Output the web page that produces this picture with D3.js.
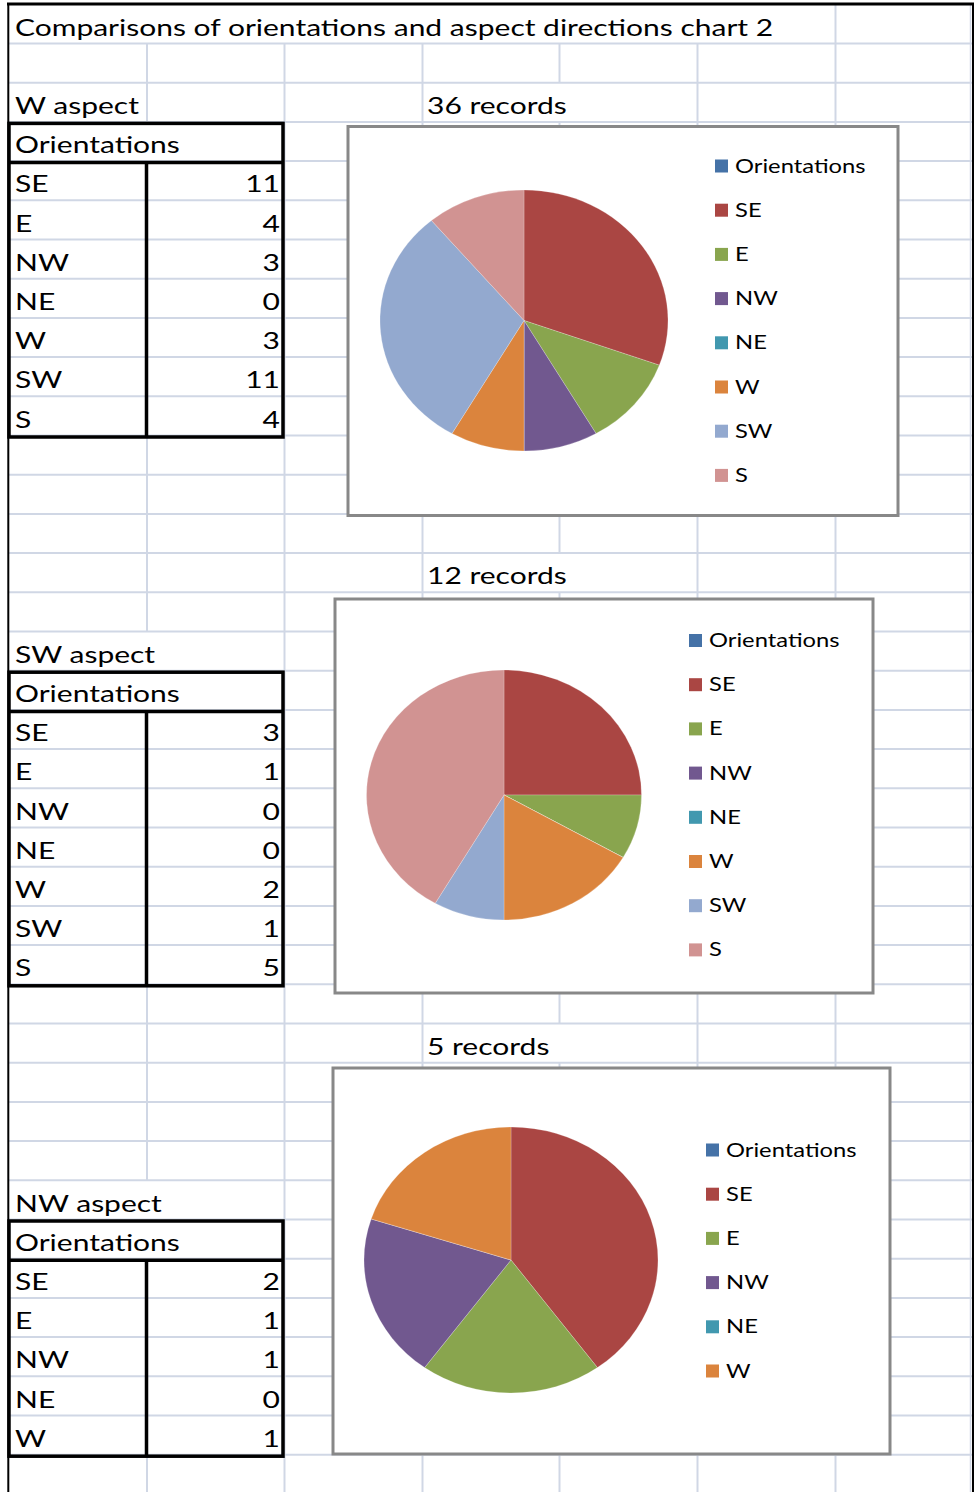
<!DOCTYPE html>
<html>
<head>
<meta charset="utf-8">
<script src="https://cdn.jsdelivr.net/npm/d3@7"></script>
<style>
  html, body { margin: 0; padding: 0; background: #fff; }
  svg { display: block; }
  text { font-family: Lato, "Open Sans", sans-serif; fill: #000; }
</style>
</head>
<body>
<svg id="chart" width="974" height="1492"></svg>
<script>
// ---------- DATA ----------
const title = "Comparisons of orientations and aspect directions chart 2";
const headerLabel = "Orientations";
const orientations = ["SE", "E", "NW", "NE", "W", "SW", "S"];
const wAspectValues = [11, 4, 3, 0, 3, 11, 4];
const swAspectValues = [3, 1, 0, 0, 2, 1, 5];
const nwAspectValues = [2, 1, 1, 0, 1];
const aspectNames = ["W aspect", "SW aspect", "NW aspect"];
const recordLabels = ["36 records", "12 records", "5 records"];
const seriesColors = ["#4572A7", "#AA4643", "#89A54E", "#71588F", "#4198AF", "#DB843D", "#93A9CF", "#D19392"];

// ---------- LAYOUT ----------
const SX = 1.25;              // horizontal text stretch
const ROW0 = 43.5, ROWH = 39.2;
const rowY = k => ROW0 + ROWH * k;
const colX = [147, 284.5, 422.5, 559.5, 697.5, 835.5, 970.5];
const GRID = "#D0D7E5";

const panels = [
  { name: aspectNames[0], values: wAspectValues, rec: recordLabels[0], labelRow: 1, recRow: 1,
    box: [348, 126.5, 898, 515.5], pie: [524, 320.5, 144, 130.5], legend: [715, 166] },
  { name: aspectNames[1], values: swAspectValues, rec: recordLabels[1], labelRow: 15, recRow: 13,
    box: [335, 599, 873, 993], pie: [504, 795, 137.5, 125], legend: [689, 640.5] },
  { name: aspectNames[2], values: nwAspectValues, rec: recordLabels[2], labelRow: 29, recRow: 25,
    box: [333, 1068, 890, 1454], pie: [511, 1260, 147, 133], legend: [706, 1150] }
];

const color = d3.scaleOrdinal().domain([headerLabel, ...orientations]).range(seriesColors);

const svg = d3.select("#chart");
svg.append("rect").attr("width", 974).attr("height", 1492).attr("fill", "#fff");

function txt(g, x, y, s, size, anchor) {
  return g.append("text")
    .attr("transform", `translate(${x},${y}) scale(${SX},1)`)
    .attr("font-size", size)
    .attr("text-anchor", anchor || "start")
    .text(s);
}

// ---------- GRID ----------
const grid = svg.append("g").attr("stroke", GRID).attr("stroke-width", 2);
for (let k = 0; k <= 37; k++) {
  grid.append("line").attr("x1", 8).attr("x2", 972).attr("y1", rowY(k)).attr("y2", rowY(k));
}
// hidden vertical segments: [rowIndex, column x]
const hiddenCells = new Set();
colX.forEach(cx => { if (cx < 800) hiddenCells.add(`-1|${cx}`); });
panels.forEach(p => {
  hiddenCells.add(`${p.recRow}|559.5`);
  if (p.labelRow !== 1) hiddenCells.add(`${p.labelRow}|147`);
  const k0 = p.labelRow + 1;
  for (let k = k0; k <= k0 + p.values.length; k++) hiddenCells.add(`${k}|147`);
});
colX.forEach(cx => {
  for (let k = -1; k <= 37; k++) {
    if (hiddenCells.has(`${k}|${cx}`)) continue;
    const y1 = k === -1 ? 4 : rowY(k);
    const y2 = Math.min(rowY(k + 1), 1492);
    grid.append("line").attr("x1", cx).attr("x2", cx).attr("y1", y1).attr("y2", y2)
      .attr("stroke-width", cx > 960 ? 1.5 : 2);
  }
});

// page borders
const border = svg.append("g").attr("stroke", "#000");
border.append("line").attr("x1", 7).attr("x2", 974).attr("y1", 4).attr("y2", 4).attr("stroke-width", 3);
border.append("line").attr("x1", 8.3).attr("x2", 8.3).attr("y1", 3).attr("y2", 1492).attr("stroke-width", 2);
border.append("line").attr("x1", 973).attr("x2", 973).attr("y1", 3).attr("y2", 1492).attr("stroke-width", 2);

// title
txt(svg, 15, rowY(0) - 8, title, 24);

// ---------- PANELS ----------
const pie = d3.pie().sort(null).value(d => d.value);

panels.forEach(p => {
  const cats = orientations.slice(0, p.values.length);
  const k0 = p.labelRow + 1; // header row
  const n = cats.length;

  // aspect label and records label
  txt(svg, 15, rowY(p.labelRow + 1) - 8, p.name, 24);
  txt(svg, 427, rowY(p.recRow + 1) - 8, p.rec, 24);

  // table
  const t = svg.append("g");
  txt(t, 15, rowY(k0 + 1) - 8, headerLabel, 24);
  cats.forEach((c, i) => {
    txt(t, 15, rowY(k0 + 2 + i) - 8, c, 24);
    txt(t, 280, rowY(k0 + 2 + i) - 8, String(p.values[i]), 24, "end");
  });
  const top = rowY(k0) + 1.5, hb = rowY(k0 + 1) + 1.5, bot = rowY(k0 + 1 + n) + 1.5;
  t.append("rect").attr("x", 9).attr("y", top).attr("width", 274).attr("height", bot - top)
    .attr("fill", "none").attr("stroke", "#000").attr("stroke-width", 3.5);
  t.append("line").attr("x1", 9).attr("x2", 283).attr("y1", hb).attr("y2", hb)
    .attr("stroke", "#000").attr("stroke-width", 3.5);
  t.append("line").attr("x1", 146.5).attr("x2", 146.5).attr("y1", hb).attr("y2", bot)
    .attr("stroke", "#000").attr("stroke-width", 3.5);

  // chart box
  const [bx0, by0, bx1, by1] = p.box;
  svg.append("rect").attr("x", bx0).attr("y", by0).attr("width", bx1 - bx0).attr("height", by1 - by0)
    .attr("fill", "#fff").attr("stroke", "#888").attr("stroke-width", 3);

  // pie
  const [cx, cy, rx, ry] = p.pie;
  const data = cats.map((c, i) => ({ cat: c, value: p.values[i] }));
  const arc = d3.arc().innerRadius(0).outerRadius(ry);
  svg.append("g").attr("transform", `translate(${cx},${cy}) scale(${rx / ry},1)`)
    .selectAll("path").data(pie(data)).join("path")
    .attr("d", arc)
    .attr("fill", d => color(d.data.cat))
    .attr("stroke", "rgba(255,255,255,0.35)").attr("stroke-width", 0.6);

  // legend
  const [lx, ly] = p.legend;
  const leg = svg.append("g");
  [headerLabel, ...cats].forEach((c, i) => {
    const y = ly + i * 44.2;
    leg.append("rect").attr("x", lx).attr("y", y - 6.5).attr("width", 13).attr("height", 13).attr("fill", color(c));
    txt(leg, lx + 20, y + 6.5, c, 19);
  });
});
</script>
</body>
</html>
